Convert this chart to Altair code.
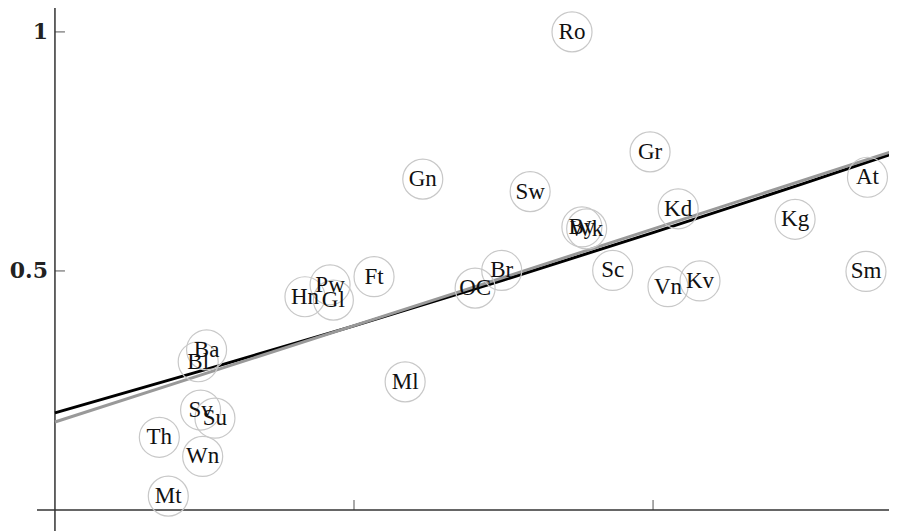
import altair as alt
import pandas as pd

# Scatter points (labels and values)
labels = ["Ro", "Gr", "At", "Kd", "Kg", "Gn", "Sw", "By", "Wk", "Sc", "Vn", "Kv", "Sm",
          "Br", "OC", "Ft", "Pw", "Hn", "Gl", "Ml", "Ba", "Bl", "Sv", "Su", "Th", "Wn", "Mt"]
xs = [1.729, 1.990, 2.717, 2.084, 2.475, 1.230, 1.589, 1.762, 1.778, 1.865, 2.050, 2.157, 2.712,
      1.494, 1.405, 1.067, 0.920, 0.836, 0.931, 1.171, 0.507, 0.479, 0.487, 0.535, 0.349, 0.494, 0.379]
ys = [1.000, 0.749, 0.696, 0.630, 0.608, 0.692, 0.666, 0.592, 0.588, 0.501, 0.467, 0.479, 0.499,
      0.501, 0.464, 0.488, 0.471, 0.446, 0.439, 0.268, 0.335, 0.310, 0.209, 0.192, 0.152, 0.112, 0.029]

# Fitted curves
black_x = [0.0, 0.5, 1.0, 1.5, 2.0, 2.5, 2.79]
black_y = [0.203, 0.293, 0.385, 0.481, 0.580, 0.682, 0.743]
gray_x = [0.0, 1.4, 2.79]
gray_y = [0.184, 0.466, 0.748]

# Axis ticks
y_ticks = [0.5, 1.0]
y_tick_labels = ["0.5", "1"]
x_ticks = [1.0, 2.0]

X_DOM = [-0.157, 2.789]
Y_DOM = [-0.044, 1.05]

pts = pd.DataFrame({"label": labels, "x": xs, "y": ys})
blk = pd.DataFrame({"x": black_x, "y": black_y})
gry = pd.DataFrame({"x": gray_x, "y": gray_y})
yt = pd.DataFrame({"y": y_ticks, "lab": y_tick_labels, "x": [0.0] * len(y_ticks)})
xt = pd.DataFrame({"x": x_ticks, "y": [0.0] * len(x_ticks)})
axes_v = pd.DataFrame({"x": [0.0], "y": [Y_DOM[0]], "y2": [Y_DOM[1]]})
axes_h = pd.DataFrame({"x": [-0.06], "x2": [X_DOM[1]], "y": [0.0]})

xs_ = alt.Scale(domain=X_DOM, nice=False, zero=False)
ys_ = alt.Scale(domain=Y_DOM, nice=False, zero=False)
X = lambda f="x": alt.X(f"{f}:Q", scale=xs_, axis=None)
Y = lambda f="y": alt.Y(f"{f}:Q", scale=ys_, axis=None)

vline = alt.Chart(axes_v).mark_rule(color="#333", strokeWidth=1.5).encode(
    x=X(), y=Y(), y2="y2:Q")
hline = alt.Chart(axes_h).mark_rule(color="#333", strokeWidth=1.5).encode(
    x=X(), x2="x2:Q", y=Y())

ytick_marks = alt.Chart(yt).mark_tick(orient="horizontal", size=10, thickness=1.2,
                                      color="#333", xOffset=5).encode(x=X(), y=Y())
ytick_text = alt.Chart(yt).mark_text(align="right", baseline="middle", dx=-7,
                                     font="DejaVu Serif", fontSize=22, fontWeight="bold",
                                     color="#222").encode(x=X(), y=Y(), text="lab:N")
xtick_marks = alt.Chart(xt).mark_tick(orient="vertical", size=10, thickness=1.2,
                                      color="#333", yOffset=-5).encode(x=X(), y=Y())

circles = alt.Chart(pts).mark_point(shape="circle", size=1600, filled=False,
                                    stroke="#c8c8c8", strokeWidth=1.2, opacity=1).encode(
    x=X(), y=Y())
texts = alt.Chart(pts).mark_text(font="Liberation Serif", fontSize=23, color="#111",
                                 baseline="middle", align="center").encode(
    x=X(), y=Y(), text="label:N")

black_line = alt.Chart(blk).mark_line(color="#000", strokeWidth=3, interpolate="monotone").encode(
    x=X(), y=Y())
gray_line = alt.Chart(gry).mark_line(color="#999", strokeWidth=3).encode(x=X(), y=Y())

chart = alt.layer(vline, hline, ytick_marks, xtick_marks, ytick_text,
                  black_line, gray_line, circles, texts).properties(
    width=881, height=523,
    autosize=alt.AutoSizeParams(type="none"),
    padding=0,
).configure_view(stroke=None)

chart.save("out.html", embed_options={"renderer": "svg", "actions": False})
